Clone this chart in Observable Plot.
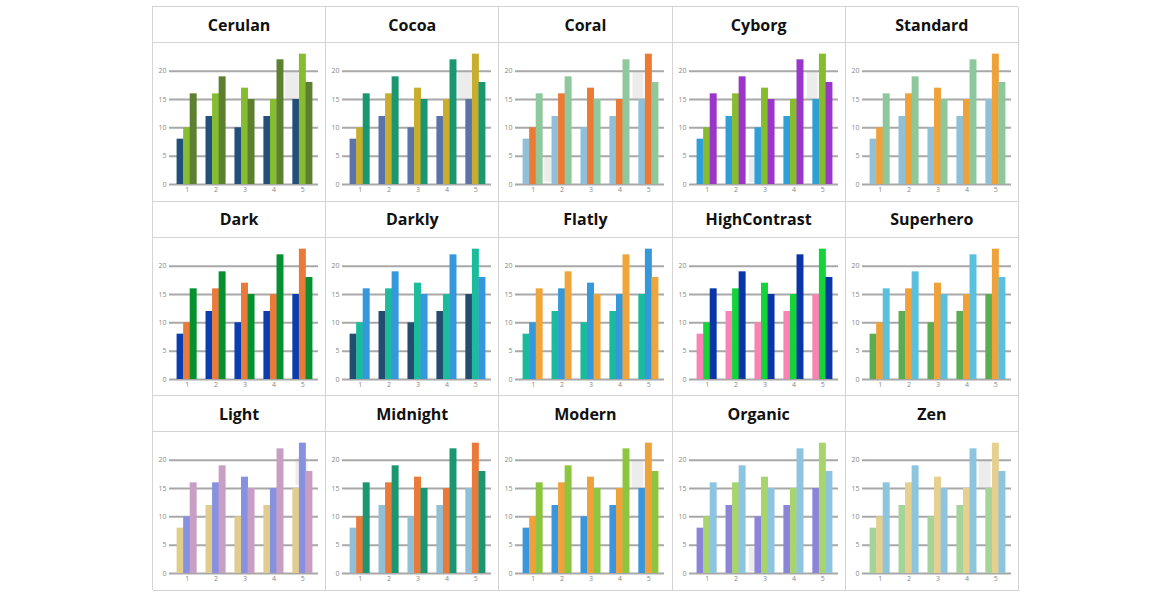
<!DOCTYPE html>
<html>
<head>
<meta charset="utf-8">
<script src="https://cdn.jsdelivr.net/npm/d3@7"></script>
<script src="https://cdn.jsdelivr.net/npm/@observablehq/plot@0.6"></script>
<style>
  html, body { margin: 0; padding: 0; background: #ffffff; }
  body { width: 1170px; height: 600px; position: relative; overflow: hidden; font-family: "Open Sans", "Noto Sans", sans-serif; }
  #grid { position: absolute; left: 152px; top: 6px; width: 866px; height: 584px;
          display: grid; grid-template-columns: repeat(5, 173.2px); grid-template-rows: repeat(3, 194.6px);
          border-top: 1px solid #d4d4d4; border-left: 1px solid #d4d4d4; box-sizing: border-box; }
  .cell { border-right: 1px solid #d4d4d4; border-bottom: 1px solid #d4d4d4; box-sizing: border-box; overflow: hidden; }
  .title { height: 36px; border-bottom: 1px solid #d4d4d4; box-sizing: border-box; display: flex; align-items: center; justify-content: center;
           font-weight: 700; font-size: 16px; color: #111; }
  .chart svg { display: block; }
</style>
</head>
<body>
<div id="grid"></div>
<script>
const categories = ["1", "2", "3", "4", "5"];
const seriesA = [8, 12, 10, 12, 15];
const seriesB = [10, 16, 17, 15, 23];
const seriesC = [16, 19, 15, 22, 18];
const yTicks = [0, 5, 10, 15, 20];

const themeNames = ["Cerulan", "Cocoa", "Coral", "Cyborg", "Standard",
                    "Dark", "Darkly", "Flatly", "HighContrast", "Superhero",
                    "Light", "Midnight", "Modern", "Organic", "Zen"];
const themePalettes = [
  ["#234f7b", "#86bd30", "#5c7f30"],
  ["#5a73a8", "#c9ae2d", "#1a9670"],
  ["#8fc0d8", "#ec7a35", "#8fc89c"],
  ["#2f9fd8", "#86bc2e", "#9a36c8"],
  ["#8fc0d8", "#f0a23a", "#8cc89c"],
  ["#0a3eb0", "#ea7a3a", "#079030"],
  ["#244c70", "#1abc9c", "#3498db"],
  ["#18bc9c", "#3498db", "#f0a53a"],
  ["#f883b4", "#14d43a", "#0a35a6"],
  ["#5cac52", "#f0a23a", "#5bc0de"],
  ["#e0cc8c", "#8890e0", "#c99ec4"],
  ["#90c0d6", "#ea7a3a", "#1a9670"],
  ["#3a96dd", "#f0a23a", "#8cc63f"],
  ["#8c84d8", "#a8d46e", "#8dc4e0"],
  ["#a4d49a", "#e6d08f", "#8dc5de"]
];

// faint grey hover boxes seen in some panels: theme, category, y from, y to, band-relative start/end
const hoverTheme = ["Cerulan", "Cocoa", "Coral", "Coral", "Cyborg", "Cyborg", "Light", "Modern", "Zen", "Organic"];
const hoverCat   = ["5", "5", "5", "2", "5", "3", "5", "5", "5", "3"];
const hoverY1    = [15, 15, 15, 0.4, 15, 0.3, 15.5, 15, 15, 0.3];
const hoverY2    = [20, 20, 20, 4.7, 20, 4.5, 20.3, 20, 20, 4.5];
const hoverF1    = [-0.38, -0.4, -0.31, -0.38, -0.3, -0.3, 0.15, -0.35, -0.35, -0.3];
const hoverF2    = [0.29, 0.3, 0.25, 0.03, 0.25, 0.0, 0.76, 0.25, 0.25, 0.0];

const series = [seriesA, seriesB, seriesC];
const W = 172, H = 157, ML = 18, MR = 7, MT = 5, MB = 16;
const padIn = 0.32, padOut = 0.2;
const step = (W - ML - MR) / (categories.length - padIn + 2 * padOut);
const bw = step * (1 - padIn);

const grid = document.getElementById("grid");
themeNames.forEach((name, t) => {
  const cell = document.createElement("div");
  cell.className = "cell";
  const title = document.createElement("div");
  title.className = "title";
  title.textContent = name;
  cell.appendChild(title);
  const chartDiv = document.createElement("div");
  chartDiv.className = "chart";
  const pal = themePalettes[t];
  const marks = [];
  hoverTheme.forEach((ht, h) => {
    if (ht !== name) return;
    marks.push(Plot.rectY([{cat: hoverCat[h], y1: hoverY1[h], y2: hoverY2[h]}], {
      x: "cat", y1: "y1", y2: "y2", fill: "#ececec",
      insetLeft: hoverF1[h] * bw, insetRight: (1 - hoverF2[h]) * bw
    }));
  });
  marks.push(Plot.ruleY(yTicks, {stroke: "#a8a8a8", strokeWidth: 2, insetLeft: -2}));
  series.forEach((vals, i) => {
    const rows = categories.map((c, k) => ({cat: c, value: vals[k]}));
    marks.push(Plot.barY(rows, {
      x: "cat", y: "value", fill: pal[i],
      insetLeft: i * bw / 3 - 0.2, insetRight: (2 - i) * bw / 3 - 0.2
    }));
  });
  const svg = Plot.plot({
    width: W, height: H,
    marginLeft: ML, marginRight: MR, marginTop: MT, marginBottom: MB,
    style: {background: "transparent", fontFamily: "Open Sans, sans-serif"},
    x: {domain: categories, paddingInner: padIn, paddingOuter: padOut, round: false, label: null},
    y: {domain: [0, 24], label: null},
    marks: [
      ...marks,
      Plot.axisX({tickSize: 0, tickPadding: 3, fontSize: 7, fill: "#888", label: null}),
      Plot.axisY({ticks: yTicks, tickSize: 0, tickPadding: 5, fontSize: 7, fill: "#888", label: null})
    ]
  });
  chartDiv.appendChild(svg);
  cell.appendChild(chartDiv);
  grid.appendChild(cell);
});
</script>
</body>
</html>
